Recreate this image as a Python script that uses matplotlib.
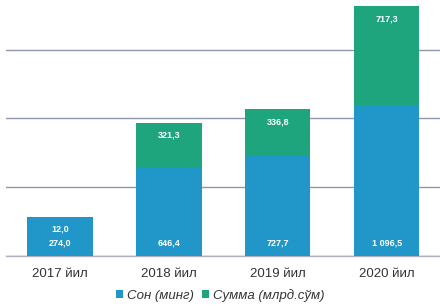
import matplotlib.pyplot as plt
import numpy as np

# Data
years = ['2017 йил', '2018 йил', '2019 йил', '2020 йил']
count = [274.0, 646.4, 727.7, 1096.5]      # Сон (минг)
amount = [12.0, 321.3, 336.8, 717.3]       # Сумма (млрд.сўм)
count_labels = ['274,0', '646,4', '727,7', '1 096,5']
amount_labels = ['12,0', '321,3', '336,8', '717,3']

blue = '#2196c8'
green = '#1fa57e'

plt.rcParams['font.family'] = ['Liberation Sans', 'DejaVu Sans']

fig = plt.figure(figsize=(4.4, 3.08), dpi=100)
ax = fig.add_axes([0.0125, 0.169, 0.99, 0.831])

x = np.arange(len(years))
b1 = ax.bar(x, count, width=0.6, color=blue, zorder=2)
b2 = ax.bar(x, amount, width=0.6, bottom=count, color=green, zorder=2)

# value labels
for i in range(len(years)):
    ax.text(x[i], 95, count_labels[i], ha='center', va='center',
            color='white', fontsize=6.5, fontweight='bold', zorder=3)
    top = count[i] + amount[i]
    ax.text(x[i], top - 90, amount_labels[i], ha='center', va='center',
            color='white', fontsize=6.5, fontweight='bold', zorder=3)

ax.set_xlim(-0.5, 3.5)
ax.set_ylim(0, 1860)
ax.set_yticks([0, 500, 1000, 1500])
ax.yaxis.grid(True, color='#8f95ad', linewidth=1.0, zorder=0)
ax.axhline(0, color='#b0b3bf', linewidth=1.0, zorder=1, clip_on=False)
ax.tick_params(axis='y', left=False, labelleft=False)
ax.tick_params(axis='x', bottom=False, labelsize=9.5, colors='#333333', pad=5)
ax.set_xticks(x)
ax.set_xticklabels(years)
for s in ax.spines.values():
    s.set_visible(False)

leg = fig.legend([b1, b2], ['Сон (минг)', 'Сумма (млрд.сўм)'],
                 loc='center', bbox_to_anchor=(0.5, 0.04), ncol=2,
                 frameon=False, handlelength=0.55, handleheight=0.55,
                 handletextpad=0.3, columnspacing=0.6,
                 prop={'size': 9.5, 'style': 'italic'})
for t in leg.get_texts():
    t.set_color('#333333')

fig.savefig('out.png', dpi=100)
